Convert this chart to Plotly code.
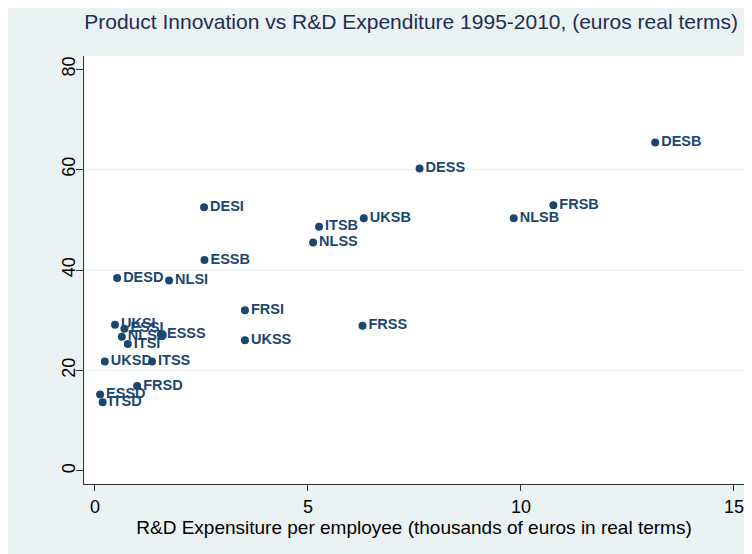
import plotly.graph_objects as go

labels = ["DESB", "DESS", "FRSB", "NLSB", "UKSB", "ITSB", "NLSS", "DESI", "ESSB",
          "DESD", "NLSI", "FRSI", "FRSS", "UKSS", "UKSI", "ESSI", "NLSD", "ITSI",
          "ESSS", "UKSD", "ITSS", "FRSD", "ESSD", "ITSD"]
rd_exp = [13.15, 7.62, 10.76, 9.83, 6.31, 5.26, 5.12, 2.56, 2.57,
          0.52, 1.74, 3.52, 6.28, 3.52, 0.47, 0.69, 0.63, 0.77,
          1.55, 0.23, 1.34, 0.99, 0.12, 0.18]
innovation = [65.4, 60.2, 52.9, 50.3, 50.3, 48.6, 45.5, 52.5, 42.0,
              38.4, 37.9, 32.0, 28.9, 26.0, 29.1, 28.3, 26.7, 25.3,
              27.1, 21.8, 21.8, 16.9, 15.2, 13.7]
x_ticks = [0, 5, 10, 15]
y_ticks = [0, 20, 40, 60, 80]
grid_y = [20, 40, 60]

navy = "#1a476f"
bg = "#eaf2f3"

fig = go.Figure()
fig.add_trace(go.Scatter(
    x=rd_exp, y=innovation, text=labels, mode="markers+text",
    textposition="middle right",
    marker=dict(color=navy, size=8),
    textfont=dict(family="Liberation Sans, Arial", size=14.5, color=navy, weight="bold"),
    cliponaxis=False, showlegend=False,
))

for g in grid_y:
    fig.add_shape(type="line", xref="paper", yref="y", x0=0, x1=1, y0=g, y1=g,
                  line=dict(color=bg, width=1.5), layer="below")

fig.update_layout(
    width=752, height=554,
    margin=dict(l=76, r=16, t=48, b=78),
    paper_bgcolor=bg, plot_bgcolor="white",
    font=dict(family="Liberation Sans, Arial", color="#000000"),
    title=dict(text="Product Innovation vs R&D Expenditure 1995-2010, (euros real terms)",
               x=0.536, xanchor="center", y=0.975, yanchor="middle",
               font=dict(size=21, color="#1e2d53")),
    xaxis=dict(range=[-0.258, 15.235], tickvals=x_ticks, showgrid=False, zeroline=False,
               showline=True, linecolor="#333333", linewidth=1.2,
               ticks="outside", ticklen=6, tickcolor="#333333",
               tickfont=dict(size=18, color="#000000"),
               title=dict(text="R&D Expensiture per employee (thousands of euros in real terms)",
                          font=dict(size=19, color="#000000"), standoff=0)),
    yaxis=dict(range=[-2.59, 82.6], tickvals=y_ticks, showgrid=False, zeroline=False,
               showline=True, linecolor="#333333", linewidth=1.2,
               ticks="outside", ticklen=7, tickcolor="#333333", tickangle=-90,
               ticklabelstandoff=-6,
               tickfont=dict(size=18, color="#000000")),
)

fig.write_html("out.html")
